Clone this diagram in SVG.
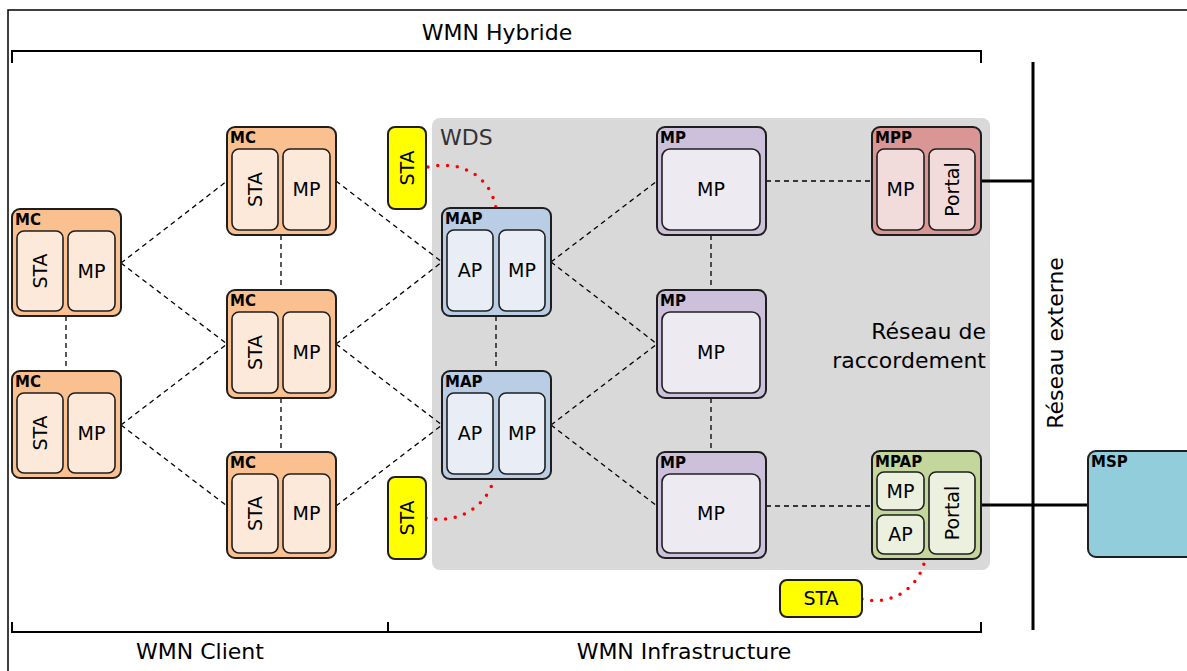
<svg xmlns="http://www.w3.org/2000/svg" width="1187" height="671" viewBox="0 0 1187 671">
  <defs>
    <style>
      .frame { fill: none; stroke: #000; stroke-width: 1.5; }
      .brk { fill: none; stroke: #000; stroke-width: 2; }
      .bus { fill: none; stroke: #000; stroke-width: 3; }
      .box { stroke: #1e1e1e; stroke-width: 2; }
      .ibox { stroke: #1e1e1e; stroke-width: 1.6; }
      .mc { fill: #fac090; } .mc-in { fill: #fde9d9; }
      .map { fill: #b9cde4; } .map-in { fill: #e9eef6; }
      .mp { fill: #ccc0da; } .mp-in { fill: #edeaf2; }
      .mpp { fill: #da9694; } .mpp-in { fill: #f2dcdb; }
      .mpap { fill: #c3d69b; } .mpap-in { fill: #ebf1de; }
      .msp { fill: #92cddc; }
      .sta { fill: #ffff00; }
      .tag { font-family: "DejaVu Sans", "Liberation Sans", sans-serif; font-weight: bold; font-size: 15px; fill: #000; }
      .in { font-family: "DejaVu Sans", "Liberation Sans", sans-serif; font-size: 19px; fill: #000; text-anchor: middle; }
      .big { font-family: "DejaVu Sans", "Liberation Sans", sans-serif; font-size: 22px; fill: #000; }
      .link { fill: none; stroke: #000; stroke-width: 1.3; stroke-dasharray: 5 4; }
      .wifi { fill: none; stroke: #ff0000; stroke-width: 3.5; stroke-linecap: round; stroke-dasharray: 0 9.8; }
    </style>
  </defs>

  <rect width="1187" height="671" fill="#fff"/>
  <!-- outer frame -->
  <rect class="frame" x="8" y="10" width="1200" height="680"/>

  <!-- range brackets -->
  <g id="brackets">
    <path class="brk" d="M12,63 V51 H981 V63"/>
    <text class="big" x="497" y="40" text-anchor="middle">WMN Hybride</text>
    <path class="brk" d="M12,622 V632 H981 V622 M388,622 V632"/>
    <text class="big" x="200" y="659" text-anchor="middle">WMN Client</text>
    <text class="big" x="684" y="659" text-anchor="middle">WMN Infrastructure</text>
  </g>

  <!-- backhaul area -->
  <g id="wds">
    <rect x="432" y="118" width="558" height="452" rx="8" fill="#d9d9d9"/>
    <text x="440" y="145" font-family="DejaVu Sans, sans-serif" font-size="22" fill="#333">WDS</text>
    <text class="big" x="986" y="339" text-anchor="end">Réseau de</text>
    <text class="big" x="986" y="368" text-anchor="end">raccordement</text>
  </g>

  <!-- external network bus -->
  <g id="external">
    <path class="bus" d="M1033,62 V630"/>
    <path class="bus" d="M981,181 H1033"/>
    <path class="bus" d="M981,505 H1088"/>
    <text class="big" transform="translate(1063,343) rotate(-90)" text-anchor="middle">Réseau externe</text>
  </g>

  <!-- connectors -->
  <g id="connectors">
    <path class="link" d="M121,263 L227,181 M121,263 L227,344 M121,425 L227,344 M121,425 L227,506"/>
    <path class="link" d="M66,316 V371 M281,235 V290 M281,398 V452"/>
    <path class="link" d="M336,181 L442,262 M336,344 L442,262 M336,344 L442,425 M336,506 L442,425"/>
    <path class="link" d="M496,316 V371"/>
    <path class="link" d="M551,262 L657,181 M551,262 L657,344 M551,425 L657,344 M551,425 L657,506"/>
    <path class="link" d="M711,235 V290 M711,398 V452"/>
    <path class="link" d="M766,181 H872 M766,506 H872"/>
    <path class="wifi" d="M428,167 C460,160 490,175 496,208"/>
    <path class="wifi" d="M426,518 C455,524 485,510 494,479"/>
    <path class="wifi" d="M862,599 C890,606 918,590 925,560"/>
  </g>

  <!-- mesh clients -->
  <g id="mc1">
    <rect class="box mc" x="12" y="209" width="109" height="107" rx="8"/>
    <text class="tag" x="15" y="225">MC</text>
    <rect class="ibox mc-in" x="17" y="231" width="46" height="80" rx="7"/>
    <rect class="ibox mc-in" x="68" y="231" width="47" height="80" rx="7"/>
    <text class="in" transform="translate(40,271) rotate(-90)" dy="0.36em">STA</text>
    <text class="in" x="91.5" y="271" dy="0.36em">MP</text>
  </g>
  <g id="mc2">
    <rect class="box mc" x="12" y="371" width="109" height="107" rx="8"/>
    <text class="tag" x="15" y="387">MC</text>
    <rect class="ibox mc-in" x="17" y="393" width="46" height="80" rx="7"/>
    <rect class="ibox mc-in" x="68" y="393" width="47" height="80" rx="7"/>
    <text class="in" transform="translate(40,433) rotate(-90)" dy="0.36em">STA</text>
    <text class="in" x="91.5" y="433" dy="0.36em">MP</text>
  </g>
  <g id="mc3">
    <rect class="box mc" x="227" y="127" width="109" height="108" rx="8"/>
    <text class="tag" x="230" y="143">MC</text>
    <rect class="ibox mc-in" x="232" y="149" width="46" height="81" rx="7"/>
    <rect class="ibox mc-in" x="283" y="149" width="47" height="81" rx="7"/>
    <text class="in" transform="translate(255,189.5) rotate(-90)" dy="0.36em">STA</text>
    <text class="in" x="306.5" y="189.5" dy="0.36em">MP</text>
  </g>
  <g id="mc4">
    <rect class="box mc" x="227" y="290" width="109" height="108" rx="8"/>
    <text class="tag" x="230" y="306">MC</text>
    <rect class="ibox mc-in" x="232" y="312" width="46" height="81" rx="7"/>
    <rect class="ibox mc-in" x="283" y="312" width="47" height="81" rx="7"/>
    <text class="in" transform="translate(255,352.5) rotate(-90)" dy="0.36em">STA</text>
    <text class="in" x="306.5" y="352.5" dy="0.36em">MP</text>
  </g>
  <g id="mc5">
    <rect class="box mc" x="227" y="452" width="109" height="106" rx="8"/>
    <text class="tag" x="230" y="468">MC</text>
    <rect class="ibox mc-in" x="232" y="474" width="46" height="79" rx="7"/>
    <rect class="ibox mc-in" x="283" y="474" width="47" height="79" rx="7"/>
    <text class="in" transform="translate(255,513.5) rotate(-90)" dy="0.36em">STA</text>
    <text class="in" x="306.5" y="513.5" dy="0.36em">MP</text>
  </g>

  <!-- stations -->
  <g id="sta1">
    <rect class="box sta" x="388" y="127" width="38" height="82" rx="7"/>
    <text class="in" transform="translate(407,168) rotate(-90)" dy="0.36em">STA</text>
  </g>
  <g id="sta2">
    <rect class="box sta" x="388" y="477" width="38" height="82" rx="7"/>
    <text class="in" transform="translate(407,518) rotate(-90)" dy="0.36em">STA</text>
  </g>
  <g id="sta3">
    <rect class="box sta" x="780" y="580" width="82" height="37" rx="7"/>
    <text class="in" x="821" y="598.5" dy="0.36em">STA</text>
  </g>

  <!-- mesh access points -->
  <g id="map1">
    <rect class="box map" x="442" y="208" width="109" height="108" rx="8"/>
    <text class="tag" x="445" y="224">MAP</text>
    <rect class="ibox map-in" x="447" y="230" width="46" height="81" rx="7"/>
    <rect class="ibox map-in" x="499" y="230" width="46" height="81" rx="7"/>
    <text class="in" x="470" y="270.5" dy="0.36em">AP</text>
    <text class="in" x="522" y="270.5" dy="0.36em">MP</text>
  </g>
  <g id="map2">
    <rect class="box map" x="442" y="371" width="109" height="108" rx="8"/>
    <text class="tag" x="445" y="387">MAP</text>
    <rect class="ibox map-in" x="447" y="393" width="46" height="81" rx="7"/>
    <rect class="ibox map-in" x="499" y="393" width="46" height="81" rx="7"/>
    <text class="in" x="470" y="433.5" dy="0.36em">AP</text>
    <text class="in" x="522" y="433.5" dy="0.36em">MP</text>
  </g>

  <!-- mesh points -->
  <g id="mp1">
    <rect class="box mp" x="657" y="127" width="109" height="108" rx="8"/>
    <text class="tag" x="660" y="143">MP</text>
    <rect class="ibox mp-in" x="662" y="149" width="98" height="81" rx="8"/>
    <text class="in" x="711" y="189.5" dy="0.36em">MP</text>
  </g>
  <g id="mp2">
    <rect class="box mp" x="657" y="290" width="109" height="108" rx="8"/>
    <text class="tag" x="660" y="306">MP</text>
    <rect class="ibox mp-in" x="662" y="312" width="98" height="81" rx="8"/>
    <text class="in" x="711" y="352.5" dy="0.36em">MP</text>
  </g>
  <g id="mp3">
    <rect class="box mp" x="657" y="452" width="109" height="106" rx="8"/>
    <text class="tag" x="660" y="468">MP</text>
    <rect class="ibox mp-in" x="662" y="474" width="98" height="79" rx="8"/>
    <text class="in" x="711" y="513.5" dy="0.36em">MP</text>
  </g>

  <!-- portals -->
  <g id="mpp">
    <rect class="box mpp" x="872" y="127" width="109" height="108" rx="8"/>
    <text class="tag" x="875" y="143">MPP</text>
    <rect class="ibox mpp-in" x="877" y="149" width="47" height="81" rx="7"/>
    <rect class="ibox mpp-in" x="929" y="149" width="46" height="81" rx="7"/>
    <text class="in" x="900.5" y="189.5" dy="0.36em">MP</text>
    <text class="in" transform="translate(952,189.5) rotate(-90)" dy="0.36em">Portal</text>
  </g>
  <g id="mpap">
    <rect class="box mpap" x="872" y="451" width="109" height="108" rx="8"/>
    <text class="tag" x="875" y="467">MPAP</text>
    <rect class="ibox mpap-in" x="877" y="472" width="47" height="38" rx="7"/>
    <rect class="ibox mpap-in" x="877" y="515" width="47" height="39" rx="7"/>
    <rect class="ibox mpap-in" x="929" y="472" width="46" height="82" rx="7"/>
    <text class="in" x="900.5" y="491" dy="0.36em">MP</text>
    <text class="in" x="900.5" y="534.5" dy="0.36em">AP</text>
    <text class="in" transform="translate(952,513) rotate(-90)" dy="0.36em">Portal</text>
  </g>

  <!-- service provider -->
  <g id="msp">
    <rect class="box msp" x="1088" y="451" width="120" height="106" rx="8"/>
    <text class="tag" x="1091" y="467">MSP</text>
  </g>
</svg>
